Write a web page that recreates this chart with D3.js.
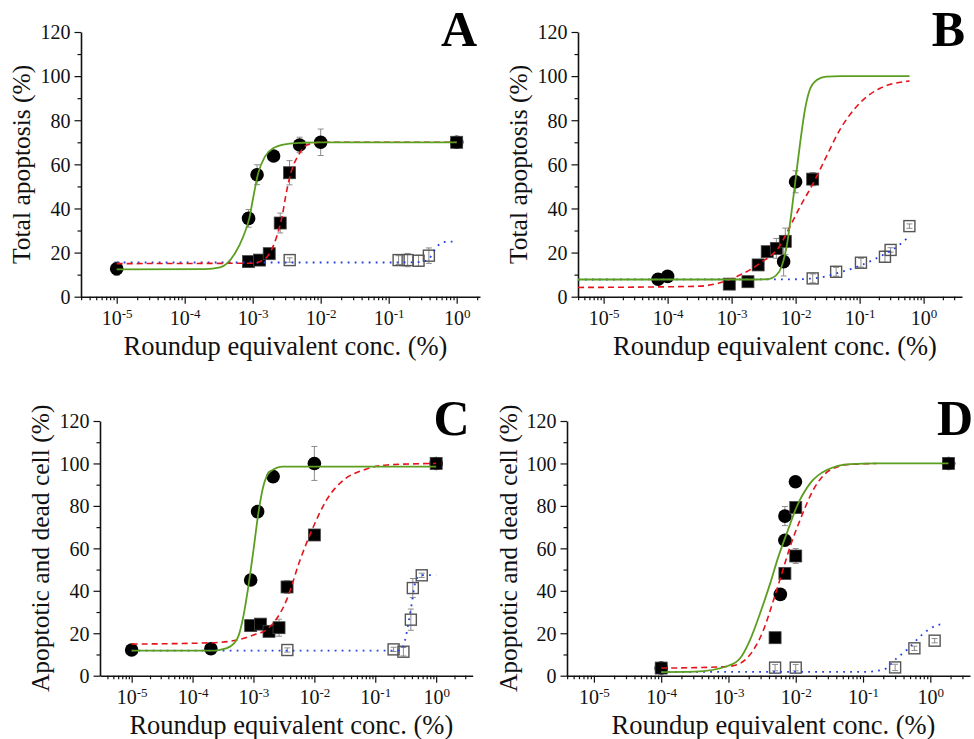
<!DOCTYPE html>
<html lang="en">
<head>
<meta charset="UTF-8">
<title>Roundup dose response</title>
<script src="https://cdnjs.cloudflare.com/ajax/libs/d3/7.8.5/d3.min.js"></script>
<style>
  body { margin: 0; background: #fff; }
</style>
</head>
<body>
<div id="wrapper"></div>
<script>
// ---- data: [conc (%), value (%), error] ----
const aCircles = [[1e-5,12.7,3],[8.7e-4,35.5,4],[1.16e-3,55.3,4.5],[2.03e-3,63.8,1],[4.9e-3,68.8,3.5],[1e-2,70,6],[1,70,1]]
const aSquares = [[8.7e-4,15.9,2],[1.26e-3,16.6,1],[1.75e-3,19.5,1],[2.54e-3,33.4,4.5],[3.48e-3,56.2,5.5],[1,70,1]]
const aOpen = [[3.5e-3,16.6,1],[0.14,16.6,2],[0.19,16.6,3],[0.275,16.3,2.5],[0.39,18.6,3.5]]

const bCircles = [[7.1e-5,7.9,0.5],[1e-4,9.2,0.5],[6.5e-3,15.9,6.5],[1e-2,52.1,5]]
const bSquares = [[9.2e-4,5.7,0.5],[1.8e-3,6.8,0.5],[2.6e-3,14.4,1],[3.6e-3,20.4,1],[5e-3,21.9,4.5],[6.9e-3,25.1,6],[1.85e-2,53.3,3]]
const bOpen = [[1.85e-2,8.3,2],[0.043,11.3,2],[0.105,15.4,2],[0.249,18.1,2.5],[0.305,21.2,1],[0.6,32,1]]

const cCircles = [[1e-5,12.1,1.5],[2e-4,12.7,2],[9e-4,45.1,1.5],[1.17e-3,77.3,1],[2.1e-3,93.8,1],[1e-2,100,8],[1,100,1]]
const cSquares = [[9e-4,23.6,1],[1.3e-3,24.3,1],[1.8e-3,20.9,1],[2.63e-3,22.6,4],[3.56e-3,41.8,3],[1e-2,66.3,1],[1,100,1]]
const cOpen = [[3.6e-3,12.1,1],[0.2,12.4,1],[0.29,11.3,2],[0.384,26.4,5],[0.414,41.3,4.5],[0.58,47.3,1]]

const dCircles = [[1e-4,3.6,1],[5.9e-3,38.3,1],[6.9e-3,63.8,1],[6.9e-3,75.2,4.5],[9.9e-3,91.4,1],[1.87,100,1]]
const dSquares = [[1e-4,3.6,1],[4.93e-3,17.9,1],[6.9e-3,48.2,1],[1e-2,56.4,3.5],[1e-2,79.2,1],[1.87,100,1]]
const dOpen = [[4.93e-3,3.8,1.5],[1e-2,3.8,1.5],[0.3,3.9,1.5],[0.58,12.9,1],[1.16,16.5,1]]

// ---- fitted curves: [log10 conc, value] ----
const aFitGreen = [[-5,12.4],[-3.7,12.5],[-3.48,13.3],[-3.26,19.7],[-3.14,27.2],[-3.05,35.5],[-2.99,45.3],[-2.92,55.9],[-2.82,63.5],[-2.7,67.3],[-2.5,69.2],[-2.26,69.8],[-2,70],[0,70]]
const aFitRed = [[-5,15],[-3,15.2],[-2.89,16],[-2.75,19.7],[-2.65,27],[-2.57,36],[-2.5,48],[-2.43,57],[-2.33,64],[-2.2,68.8],[-2,70],[0,70]]
const aFitBlue = [[-5,15.5],[-1,15.5],[-0.6,15.6],[-0.42,16.6],[-0.35,20],[-0.29,22.7],[-0.17,24.8],[-0.06,25]]

const bFitGreen = [[-5.4,7.8],[-2.6,7.8],[-2.45,7.9],[-2.3,9.8],[-2.22,13.6],[-2.14,22.7],[-2.06,39.3],[-1.995,54.4],[-1.93,69.5],[-1.855,84.6],[-1.78,93.7],[-1.67,98.2],[-1.52,99.8],[-1.3,100],[-0.22,100]]
const bFitRed = [[-5.4,4.2],[-4,4.5],[-3.49,4.8],[-3.18,6.3],[-2.87,9.8],[-2.56,15.1],[-2.24,23.4],[-2.09,31.7],[-1.93,40.8],[-1.725,51.4],[-1.52,63.5],[-1.31,75.6],[-1.05,86.1],[-0.68,94.5],[-0.22,97.8]]
const bFitBlue = [[-5.4,7.8],[-2,7.9],[-1.6,8.8],[-1.37,10.5],[-1,14],[-0.6,19.5],[-0.4,23],[-0.22,27.5]]

const cFitGreen = [[-5,11.8],[-3.7,11.8],[-3.55,12.2],[-3.385,13.7],[-3.25,18.4],[-3.167,27.8],[-3.085,41.9],[-3,59.2],[-2.92,76.5],[-2.84,89],[-2.73,96.1],[-2.51,98.5],[0,98.5]]
const cFitRed = [[-5,14.9],[-3.7,15.5],[-3.27,16.8],[-3,19.2],[-2.78,21.8],[-2.455,35.7],[-2.235,54.5],[-2.016,70.2],[-1.8,82.8],[-1.52,92.2],[-1.195,96.9],[-0.81,99.3],[0,100]]
const cFitBlue = [[-5,11.8],[-0.59,11.8],[-0.51,16.8],[-0.456,24.7],[-0.4,34.1],[-0.346,43.5],[-0.26,47.4],[0,47.4]]

const dFitGreen = [[-4,1.7],[-3.5,1.9],[-3,4.7],[-2.827,8.2],[-2.68,16.8],[-2.53,29.4],[-2.38,43.5],[-2.258,56.1],[-2.133,67.1],[-1.985,79.6],[-1.787,90.6],[-1.54,96.9],[-1.19,99.7],[-0.8,100],[0.27,100]]
const dFitRed = [[-4,3.6],[-3.5,3.8],[-3,4.4],[-2.827,5.8],[-2.63,12.1],[-2.48,21.5],[-2.33,35.7],[-2.207,48.2],[-2.084,60.8],[-1.935,73.4],[-1.74,87.5],[-1.49,96.9],[-1.2,99.5],[-0.8,100]]
const dFitBlue = [[-4,1.8],[-1,1.8],[-0.7,2.8],[-0.5,8.2],[-0.35,12.1],[-0.128,19.2],[0.07,23.4],[0.22,24.5]]

const yTicks = [0, 20, 40, 60, 80, 100, 120]
const yMinorTicks = [10, 30, 50, 70, 90, 110]
const xDecades = [-5, -4, -3, -2, -1, 0]
const xTitle = 'Roundup equivalent conc. (%)'

const FONT = "'Liberation Serif', 'Times New Roman', Times, serif"

// ---- layout ----
const panels = [
  { letter: 'A', left: 81, right: 480, y0: 296.7, yTop: 32, xMin: -5.525, xMax: 0.343, yTitle: 'Total apoptosis (%)', yTitleX: 30,
    circles: aCircles, squares: aSquares, open: aOpen, green: aFitGreen, red: aFitRed, blue: aFitBlue },
  { letter: 'B', left: 578, right: 962, y0: 296.7, yTop: 32, xMin: -5.40, xMax: 0.6, yTitle: 'Total apoptosis (%)', yTitleX: 527,
    circles: bCircles, squares: bSquares, open: bOpen, green: bFitGreen, red: bFitRed, blue: bFitBlue },
  { letter: 'C', left: 100, right: 472.7, y0: 675.7, yTop: 421, xMin: -5.52, xMax: 0.6, yTitle: 'Apoptotic and dead cell (%)', yTitleX: 49,
    circles: cCircles, squares: cSquares, open: cOpen, green: cFitGreen, red: cFitRed, blue: cFitBlue },
  { letter: 'D', left: 567, right: 970, y0: 675.7, yTop: 421, xMin: -5.40, xMax: 0.59, yTitle: 'Apoptotic and dead cell (%)', yTitleX: 517,
    circles: dCircles, squares: dSquares, open: dOpen, green: dFitGreen, red: dFitRed, blue: dFitBlue }
]

const svg = d3.select('#wrapper').append('svg')
  .attr('width', 974)
  .attr('height', 739)
  .style('font-family', FONT)

panels.forEach(p => drawPanel(p))

function drawPanel(p) {
  const g = svg.append('g')
  const xScale = d3.scaleLog()
    .domain([Math.pow(10, p.xMin), Math.pow(10, p.xMax)])
    .range([p.left, p.right])
  const yScale = d3.scaleLinear()
    .domain([0, 120])
    .range([p.y0, p.yTop])

  // minor log ticks
  const minor = []
  for (let e = -6; e <= 1; e++) {
    for (let k = 2; k <= 9; k++) {
      const v = k * Math.pow(10, e)
      if (v >= xScale.domain()[0] && v <= xScale.domain()[1]) minor.push(v)
    }
  }
  const xMinorAxis = g.append('g')
    .attr('transform', `translate(0,${p.y0})`)
    .call(d3.axisBottom(xScale).tickValues(minor).tickSize(3.5).tickFormat(''))
  xMinorAxis.select('.domain').remove()

  const xAxis = g.append('g')
    .attr('transform', `translate(0,${p.y0})`)
    .call(d3.axisBottom(xScale)
      .tickValues(xDecades.map(e => Math.pow(10, e)))
      .tickSize(7).tickSizeOuter(0))
  xAxis.selectAll('.tick text')
    .attr('y', 28).attr('dy', null)
    .style('font-family', FONT)
    .style('font-size', '20px')
    .attr('fill', '#111')
    .each(function(d) {
      const e = Math.round(Math.log10(d))
      const t = d3.select(this).text('10')
      t.append('tspan')
        .attr('dy', '-0.55em')
        .style('font-size', '13px')
        .text(e)
    })

  const yMinorAxis = g.append('g')
    .attr('transform', `translate(${p.left},0)`)
    .call(d3.axisLeft(yScale).tickValues(yMinorTicks).tickSize(3.5).tickFormat(''))
  yMinorAxis.select('.domain').remove()

  const yAxis = g.append('g')
    .attr('transform', `translate(${p.left},0)`)
    .call(d3.axisLeft(yScale).tickValues(yTicks).tickSize(6.5).tickSizeOuter(0).tickPadding(4))
  yAxis.selectAll('.tick text')
    .attr('dy', '0.34em')
    .attr('fill', '#111')
    .style('font-family', FONT)
    .style('font-size', '20px')

  g.selectAll('.domain').attr('stroke', '#111').attr('stroke-width', 1.6)
  g.selectAll('.tick line').attr('stroke', '#111').attr('stroke-width', 1.2)

  // axis titles
  g.append('text')
    .attr('x', (p.left + p.right) / 2 + 5)
    .attr('y', p.y0 + 58)
    .attr('text-anchor', 'middle')
    .attr('fill', '#111')
    .style('font-family', FONT)
    .style('font-size', '26.5px')
    .text(xTitle)

  g.append('text')
    .attr('transform', `translate(${p.yTitleX},${(p.y0 + p.yTop) / 2}) rotate(-90)`)
    .attr('text-anchor', 'middle')
    .attr('fill', '#111')
    .style('font-family', FONT)
    .style('font-size', '25.5px')
    .text(p.yTitle)

  // panel letter
  g.append('text')
    .attr('x', p.right - 3 + (p.letter === 'B' || p.letter === 'D' ? 6 : 0))
    .attr('y', p.yTop + 14)
    .attr('text-anchor', 'end')
    .attr('fill', '#000')
    .style('font-family', FONT)
    .style('font-size', '50px')
    .style('font-weight', 'bold')
    .text(p.letter)

  // error bars
  const allPts = [...p.circles, ...p.squares, ...p.open]
  const eb = g.append('g')
    .attr('stroke', '#8c8c8c')
    .attr('stroke-width', 1)
  allPts.forEach(d => {
    const cx = xScale(d[0])
    const yHi = yScale(d[1] + d[2])
    const yLo = yScale(d[1] - d[2])
    eb.append('line').attr('x1', cx).attr('x2', cx).attr('y1', yHi).attr('y2', yLo)
    eb.append('line').attr('x1', cx - 3).attr('x2', cx + 3).attr('y1', yHi).attr('y2', yHi)
    eb.append('line').attr('x1', cx - 3).attr('x2', cx + 3).attr('y1', yLo).attr('y2', yLo)
  })

  // markers
  g.append('g').selectAll('rect')
    .data(p.open)
    .join('rect')
      .attr('x', d => xScale(d[0]) - 5.5)
      .attr('y', d => yScale(d[1]) - 5.5)
      .attr('width', 11)
      .attr('height', 11)
      .attr('fill', 'none')
      .attr('stroke', '#555')
      .attr('stroke-width', 1.4)

  g.append('g').selectAll('circle')
    .data(p.circles)
    .join('circle')
      .attr('cx', d => xScale(d[0]))
      .attr('cy', d => yScale(d[1]))
      .attr('r', 6.8)
      .attr('fill', '#000')

  g.append('g').selectAll('rect')
    .data(p.squares)
    .join('rect')
      .attr('x', d => xScale(d[0]) - 6)
      .attr('y', d => yScale(d[1]) - 6)
      .attr('width', 12)
      .attr('height', 12)
      .attr('fill', '#000')
      .attr('stroke', '#444')
      .attr('stroke-width', 0.8)

  // fit curves
  const line = d3.line()
    .x(d => xScale(Math.pow(10, d[0])))
    .y(d => yScale(d[1]))
    .curve(d3.curveMonotoneX)

  g.append('path').datum(p.blue)
    .attr('d', line).attr('fill', 'none')
    .attr('stroke', '#2540e0').attr('stroke-width', 1.8)
    .attr('stroke-dasharray', '1.8,5.2')
  g.append('path').datum(p.red)
    .attr('d', line).attr('fill', 'none')
    .attr('stroke', '#e5141b').attr('stroke-width', 1.6)
    .attr('stroke-dasharray', '6,4')
  g.append('path').datum(p.green)
    .attr('d', line).attr('fill', 'none')
    .attr('stroke', '#5b9e20').attr('stroke-width', 1.8)
}
</script>
</body>
</html>
